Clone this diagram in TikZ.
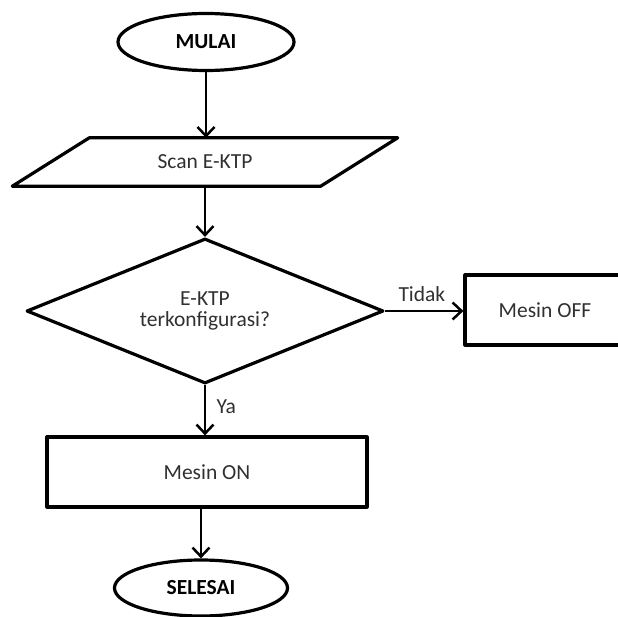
\documentclass[tikz,border=0pt]{standalone}
\usepackage{fontspec}
\setmainfont{Carlito}
\usepackage{tikz}
\usetikzlibrary{shapes.geometric, arrows.meta, positioning}
\definecolor{textgrey}{HTML}{303030}

\tikzset{
  outline/.style={line width=3.2pt, line join=round},
  terminal/.style={ellipse, draw, outline, inner sep=0pt,
    font=\fontsize{21.5}{23}\selectfont\bfseries},
  iobox/.style={rectangle, inner sep=0pt,
    text=textgrey, font=\fontsize{21.5}{23}\selectfont},
  decision/.style={diamond, aspect=2.5, draw, outline, inner sep=0pt, align=center,
    text=textgrey, font=\fontsize{21.5}{21.5}\selectfont},
  process/.style={rectangle, draw, outline, inner sep=0pt,
    text=textgrey, font=\fontsize{21.5}{23}\selectfont},
  flow/.style={line width=2.5pt, -{Straight Barb[length=9pt, width=17pt, line width=2.5pt]}},
  edgelabel/.style={text=textgrey, font=\fontsize{21.5}{23}\selectfont}
}

\begin{document}
\begin{tikzpicture}[x=1pt, y=-1pt]
\useasboundingbox (0,0) rectangle (618,617);

\node[terminal, minimum width=176, minimum height=57] (mulai) at (206,42) {MULAI};
\node[iobox, minimum width=308, minimum height=48] (scan) at (205,162) {Scan E-KTP};
\draw[outline] ([xshift=-38.5]scan.south west) -- ([xshift=38.5]scan.north west)
  -- ([xshift=38.5]scan.north east) -- ([xshift=-38.5]scan.south east) -- cycle;
\node[decision, minimum width=357, minimum height=145] (cek) at (205,311)
  {E-KTP\\terkonfigurasi?};
\node[process, minimum width=160, minimum height=70] (off) at (545,310) {Mesin OFF};
\node[process, minimum width=320, minimum height=70] (on) at (207,472) {Mesin ON};
\node[terminal, minimum width=173, minimum height=56] (selesai) at (201,588) {SELESAI};

% connectors
\draw[flow] (mulai.south) -- (mulai |- scan.north);
\draw[flow] (scan.south) -- (cek.north);
\draw[flow] (cek.east) -- (off.west |- cek.east)
  node[edgelabel, pos=0.47, above=5pt] (tidak) {Tidak};
\draw[flow] (cek.south) -- (cek.south |- on.north)
  node[edgelabel, pos=0.42, right=7pt] (ya) {Ya};
\draw[flow] (on.south -| selesai.north) -- (selesai.north);
\end{tikzpicture}
\end{document}
